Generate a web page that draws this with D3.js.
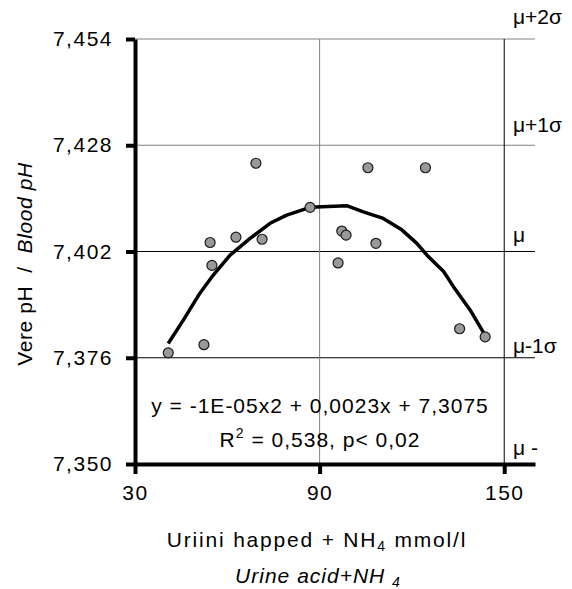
<!DOCTYPE html>
<html>
<head>
<meta charset="utf-8">
<script src="https://cdn.jsdelivr.net/npm/d3@7"></script>
<style>
  html, body { margin: 0; padding: 0; background: #fff; }
  svg { display: block; font-family: "Liberation Sans", Arial, sans-serif; }
</style>
</head>
<body>
<div id="chart"></div>
<script>
// andmed (loetud pildilt)
var xValues = [40.8, 52.4, 54.4, 55.0, 62.8, 69.3, 71.3, 86.9, 96.0, 97.2, 98.6, 105.7, 108.3, 124.4, 135.5, 143.8];
var yValues = [7.3772, 7.3792, 7.4042, 7.3986, 7.4055, 7.4236, 7.4050, 7.4128, 7.3992, 7.4070, 7.4060, 7.4225, 7.4040, 7.4225, 7.3831, 7.3811];

// trendijoon
var trendX = [40.8, 45.7, 51.1, 55.5, 60.9, 67.4, 73.9, 79.3, 86.9, 98.8, 104.2, 110.7, 116.7, 121.6, 124.9, 130.3, 133.5, 138.9, 143.8];
var trendY = [7.3795, 7.3852, 7.3918, 7.3963, 7.4011, 7.4052, 7.4089, 7.4109, 7.4128, 7.4132, 7.4117, 7.4101, 7.4073, 7.4040, 7.4011, 7.3971, 7.3934, 7.3877, 7.3815];

var xTicks = [30, 90, 150];
var yTicks = [7.350, 7.376, 7.402, 7.428, 7.454];
var sigmaLabels = ['μ -', 'μ-1σ', 'μ', 'μ+1σ', 'μ+2σ'];
var sigmaNudge = [-9, -5, -10, -13, -15];

var width = 572, height = 589;
var svg = d3.select('#chart').append('svg')
    .attr('width', width)
    .attr('height', height);

var x = d3.scaleLinear().domain([30, 160]).range([135, 535]);
var y = d3.scaleLinear().domain([7.350, 7.454]).range([464, 39]);

var locale = d3.formatLocale({decimal: ',', thousands: ' ', grouping: [3], currency: ['', '']});
var fmt = locale.format('.3f');

// ruudustik
svg.append('g').selectAll('line')
    .data(yTicks.slice(1))
    .enter().append('line')
    .attr('x1', x(30)).attr('x2', x(160))
    .attr('y1', function (d) { return y(d); })
    .attr('y2', function (d) { return y(d); })
    .attr('stroke', function (d) { return d >= 7.428 ? '#808080' : '#000'; })
    .attr('stroke-width', 1);

svg.append('g').selectAll('line')
    .data(xTicks.slice(1))
    .enter().append('line')
    .attr('x1', function (d) { return x(d); })
    .attr('x2', function (d) { return x(d); })
    .attr('y1', y(7.454)).attr('y2', y(7.350))
    .attr('stroke', function (d) { return d === 90 ? '#808080' : '#000'; })
    .attr('stroke-width', 1);

// sigma sildid
svg.append('g').selectAll('text')
    .data(sigmaLabels)
    .enter().append('text')
    .attr('x', 513)
    .attr('y', function (d, i) { return y(yTicks[i]) + sigmaNudge[i]; })
    .attr('font-size', 21)
    .text(function (d) { return d; });

// teljed
var xAxis = svg.append('g')
    .attr('transform', 'translate(0,' + y(7.350) + ')')
    .call(d3.axisBottom(x).tickValues(xTicks).tickSize(10).tickSizeOuter(0).tickPadding(22));
var yAxis = svg.append('g')
    .attr('transform', 'translate(' + x(30) + ',0)')
    .call(d3.axisLeft(y).tickValues(yTicks).tickFormat(fmt).tickSize(9).tickSizeOuter(0).tickPadding(13));

[xAxis, yAxis].forEach(function (g) {
    g.attr('font-family', null).attr('font-size', null);
    g.select('.domain').attr('stroke', '#000').attr('stroke-width', 4);
    g.selectAll('.tick line').attr('stroke', '#000').attr('stroke-width', 4);
    g.selectAll('.tick text').attr('fill', '#000').attr('font-size', 21).attr('letter-spacing', 1.5);
});
xAxis.selectAll('.tick text').attr('dy', '0.2em');

// trendijoon
var line = d3.line()
    .x(function (d) { return x(d[0]); })
    .y(function (d) { return y(d[1]); });
svg.append('path')
    .datum(d3.zip(trendX, trendY))
    .attr('d', line)
    .attr('fill', 'none')
    .attr('stroke', '#000')
    .attr('stroke-width', 3.5)
    .attr('stroke-linejoin', 'round');

// punktid
svg.append('g').selectAll('circle')
    .data(d3.zip(xValues, yValues))
    .enter().append('circle')
    .attr('cx', function (d) { return x(d[0]); })
    .attr('cy', function (d) { return y(d[1]); })
    .attr('r', 5)
    .attr('fill', '#999999')
    .attr('stroke', '#1a1a1a')
    .attr('stroke-width', 1.2);

// võrrand
var eq = svg.append('g').attr('font-size', 21).attr('text-anchor', 'middle').attr('letter-spacing', 1);
eq.append('text').attr('x', 320).attr('y', 413).text('y = -1E-05x2 + 0,0023x + 7,3075');
var r2 = eq.append('text').attr('x', 320).attr('y', 447);
r2.append('tspan').text('R');
r2.append('tspan').attr('font-size', 14).attr('dy', -9).text('2');
r2.append('tspan').attr('dy', 9).text(' = 0,538, p< 0,02');

// telgede pealkirjad
var xt = svg.append('text').attr('x', 317).attr('y', 547).attr('text-anchor', 'middle')
    .attr('font-size', 21).attr('letter-spacing', 1.8);
xt.append('tspan').text('Uriini happed + NH');
xt.append('tspan').attr('font-size', 14).attr('dy', 4).text('4');
xt.append('tspan').attr('dy', -4).text(' mmol/l');

var xt2 = svg.append('text').attr('x', 318).attr('y', 583).attr('text-anchor', 'middle')
    .attr('font-size', 21).attr('font-style', 'italic').attr('letter-spacing', 1);
xt2.append('tspan').text('Urine acid+NH ');
xt2.append('tspan').attr('font-size', 14).attr('dy', 4).text('4');

var yt = svg.append('text')
    .attr('transform', 'translate(32,264) rotate(-90)')
    .attr('text-anchor', 'middle')
    .style('white-space', 'pre')
    .attr('font-size', 21).attr('letter-spacing', 0.6);
yt.append('tspan').text('Vere pH  /  ');
yt.append('tspan').attr('font-style', 'italic').text('Blood pH');
</script>
</body>
</html>
